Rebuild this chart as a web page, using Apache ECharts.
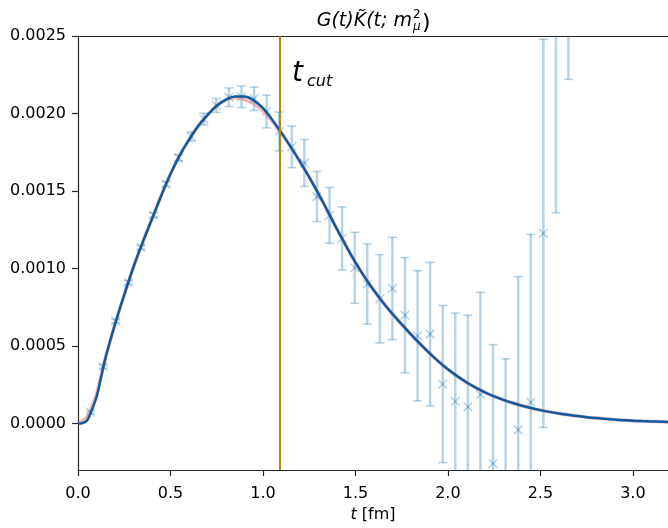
<!DOCTYPE html>
<html>
<head>
<meta charset="utf-8">
<script src="https://cdn.jsdelivr.net/npm/echarts@6/dist/echarts.min.js"></script>
<style>html,body{margin:0;padding:0;background:#fff}#c{width:668px;height:528px}</style>
</head>
<body>
<div id="c"></div>
<script>
// ---- data ----
const tCut = 1.088;
const xTicks = [0, 0.5, 1.0, 1.5, 2.0, 2.5, 3.0];
const yTicks = [0, 0.0005, 0.0010, 0.0015, 0.0020, 0.0025];

const curveT = [0, 0.025, 0.05, 0.075, 0.1, 0.125, 0.15, 0.2, 0.25, 0.3, 0.35, 0.4, 0.45, 0.5, 0.55, 0.6, 0.65, 0.7, 0.75, 0.8, 0.85, 0.9, 0.95, 1.0, 1.05, 1.1, 1.15, 1.2, 1.25, 1.3, 1.35, 1.4, 1.45, 1.5, 1.55, 1.6, 1.65, 1.7, 1.75, 1.8, 1.85, 1.9, 1.95, 2.0, 2.05, 2.1, 2.15, 2.2, 2.25, 2.3, 2.35, 2.4, 2.45, 2.5, 2.55, 2.6, 2.65, 2.7, 2.75, 2.8, 2.85, 2.9, 2.95, 3.0, 3.05, 3.1, 3.15, 3.2];
const curveBlue = [0, 0.000004, 0.000022, 0.00009, 0.00017, 0.0003, 0.00043, 0.00064, 0.00083, 0.00101, 0.00117, 0.00132, 0.00147, 0.00161, 0.00173, 0.00183, 0.00192, 0.00199, 0.00205, 0.00209, 0.00211, 0.00211, 0.002085, 0.002035, 0.00196, 0.001875, 0.001785, 0.00169, 0.00159, 0.001483, 0.00137, 0.001255, 0.001145, 0.00104, 0.000945, 0.000858, 0.00078, 0.000708, 0.000641, 0.000576, 0.000514, 0.000455, 0.0004, 0.00035, 0.000306, 0.000267, 0.000232, 0.000202, 0.000176, 0.000153, 0.000133, 0.000115, 0.0001, 0.000087, 0.0000755, 0.0000655, 0.0000565, 0.0000485, 0.0000415, 0.0000355, 0.0000305, 0.000026, 0.000022, 0.0000185, 0.000016, 0.000014, 0.000012, 0.00001];
const curveRed = [0, 0.000018, 0.000045, 0.00011, 0.00019, 0.00031, 0.00043, 0.00064, 0.00083, 0.00101, 0.00117, 0.00132, 0.00147, 0.00161, 0.00173, 0.00183, 0.00192, 0.00199, 0.00205, 0.00209, 0.0021, 0.00209, 0.002065, 0.002015, 0.00195, 0.001875, 0.001785, 0.00169, 0.00159, 0.001483, 0.00137, 0.001255, 0.001145, 0.00104, 0.000945, 0.000858, 0.00078, 0.000708, 0.000641, 0.000576, 0.000514, 0.000455, 0.0004, 0.00035, 0.000306, 0.000267, 0.000232, 0.000202, 0.000176, 0.000153, 0.000133, 0.000115, 0.0001, 0.000087, 0.0000755, 0.0000655, 0.0000565, 0.0000485, 0.0000415, 0.0000355, 0.0000305, 0.000026, 0.000022, 0.0000185, 0.000016, 0.000014, 0.000012, 0.00001];

const ptT = [0.068, 0.136, 0.204, 0.272, 0.340, 0.408, 0.476, 0.544, 0.612, 0.680, 0.748, 0.816, 0.884, 0.952, 1.020, 1.088, 1.156, 1.224, 1.292, 1.360, 1.428, 1.496, 1.564, 1.632, 1.700, 1.768, 1.836, 1.904, 1.972, 2.040, 2.108, 2.176, 2.244, 2.312, 2.380, 2.448, 2.516, 2.584, 2.652];
const ptY = [0.000072, 0.000367, 0.000661, 0.00091, 0.001136, 0.001345, 0.001545, 0.001714, 0.001852, 0.001964, 0.002052, 0.002105, 0.002108, 0.002095, 0.002013, 0.001884, 0.001785, 0.001681, 0.001464, 0.001343, 0.001195, 0.001005, 0.0009, 0.000805, 0.000872, 0.000699, 0.000566, 0.000577, 0.000255, 0.000143, 0.000108, 0.000188, -0.000258, -0.00036, -0.00004, 0.000137, 0.001227, 0.0031, 0.0036];
const ptErr = [0.000008, 0.00001, 0.00001, 0.000012, 0.000012, 0.000014, 0.000016, 0.00002, 0.00003, 0.000038, 0.000045, 0.00006, 0.00007, 0.000076, 0.000106, 0.000125, 0.000134, 0.000151, 0.000162, 0.00018, 0.000203, 0.000229, 0.000259, 0.000285, 0.00033, 0.000372, 0.00042, 0.000463, 0.000507, 0.00057, 0.000591, 0.000659, 0.000767, 0.000778, 0.000988, 0.001084, 0.001252, 0.00174, 0.00138];

// ---- chart ----
const FONT = 'DejaVu Sans';
const AX = '#262626';
const ERR = 'rgba(31,119,180,0.32)';
const chart = echarts.init(document.getElementById('c'), null, {renderer: 'canvas'});

const curveData = curveT.map((t, i) => [t, curveBlue[i]]);
const redData = curveT.map((t, i) => [t, curveRed[i]]);
const ptData = ptT.map((t, i) => [t, ptY[i], ptErr[i]]);

chart.setOption({
  animation: false,
  backgroundColor: '#fff',
  grid: {left: 78, top: 36, right: 0, bottom: 51, containLabel: false},
  xAxis: [{
    type: 'value', min: 0, max: 3.19,
    axisLine: {show: true, onZero: false, lineStyle: {color: AX, width: 1.2}},
    axisTick: {show: true, length: 6, customValues: xTicks, lineStyle: {color: AX, width: 1.2}},
    axisLabel: {customValues: xTicks, formatter: v => v.toFixed(1), color: '#000', fontFamily: FONT, fontSize: 16, margin: 16},
    splitLine: {show: false},
    name: '{i|t} [fm]', nameLocation: 'middle', nameGap: 33,
    nameTextStyle: {color: '#000', fontFamily: FONT, fontSize: 16, rich: {i: {fontStyle: 'italic', fontFamily: FONT, fontSize: 16, color: '#000'}}}
  }, {
    type: 'value', position: 'top', min: 0, max: 3.19,
    axisLine: {show: true, onZero: false, lineStyle: {color: AX, width: 1.2}},
    axisTick: {show: false}, axisLabel: {show: false}, splitLine: {show: false}
  }],
  yAxis: {
    type: 'value', min: -0.0003, max: 0.0025,
    axisLine: {show: true, onZero: false, lineStyle: {color: AX, width: 1.2}},
    axisTick: {show: true, length: 6, customValues: yTicks, lineStyle: {color: AX, width: 1.2}},
    axisLabel: {customValues: yTicks, formatter: v => v.toFixed(4), color: '#000', fontFamily: FONT, fontSize: 16, margin: 12},
    splitLine: {show: false}
  },
  series: [{
    type: 'custom',
    clip: true,
    z: 2,
    encode: {x: 0, y: 1},
    data: ptData,
    renderItem: function (params, api) {
      const t = api.value(0), y = api.value(1), e = api.value(2);
      const lo = api.coord([t, y - e]), hi = api.coord([t, y + e]), p = api.coord([t, y]);
      const cap = 4.5, m = 4.3;
      const bar = {stroke: ERR, lineWidth: 2.5};
      const thin = {stroke: ERR, lineWidth: 1.6};
      return {type: 'group', children: [
        {type: 'line', shape: {x1: lo[0], y1: lo[1], x2: hi[0], y2: hi[1]}, style: bar},
        {type: 'line', shape: {x1: lo[0] - cap, y1: lo[1], x2: lo[0] + cap, y2: lo[1]}, style: thin},
        {type: 'line', shape: {x1: hi[0] - cap, y1: hi[1], x2: hi[0] + cap, y2: hi[1]}, style: thin},
        {type: 'line', shape: {x1: p[0] - m, y1: p[1] - m, x2: p[0] + m, y2: p[1] + m}, style: thin},
        {type: 'line', shape: {x1: p[0] - m, y1: p[1] + m, x2: p[0] + m, y2: p[1] - m}, style: thin}
      ]};
    }
  }, {
    type: 'line', data: redData, showSymbol: false, smooth: 0.4, z: 3,
    lineStyle: {color: 'rgba(240,128,128,0.55)', width: 3.5}
  }, {
    type: 'line', data: curveData, showSymbol: false, smooth: 0.4, z: 4,
    lineStyle: {color: '#0f5a9e', width: 2.5},
    markLine: {
      silent: true, symbol: ['none', 'none'], animation: false,
      label: {show: false},
      lineStyle: {color: '#b8860b', width: 2, type: 'solid'},
      data: [{xAxis: tCut}]
    }
  }],
  graphic: [
    {type: 'text', x: 412, y: 31, style: {text: 'G(t)K\u0303(t; m', font: 'italic 19px "DejaVu Sans"', fill: '#000', textAlign: 'right', textVerticalAlign: 'bottom'}},
    {type: 'text', x: 413, y: 21, style: {text: '2', font: '12px "DejaVu Sans"', fill: '#000', textAlign: 'left', textVerticalAlign: 'bottom'}},
    {type: 'text', x: 413, y: 33, style: {text: '\u03bc', font: 'italic 12px "DejaVu Sans"', fill: '#000', textAlign: 'left', textVerticalAlign: 'bottom'}},
    {type: 'text', x: 422, y: 34, style: {text: ')', font: '22px "DejaVu Sans"', fill: '#000', textAlign: 'left', textVerticalAlign: 'bottom'}},
    {type: 'text', x: 292, y: 88, style: {text: 't', font: 'italic 28px "DejaVu Sans"', fill: '#000', textAlign: 'left', textVerticalAlign: 'bottom'}},
    {type: 'text', x: 307, y: 90, style: {text: 'cut', font: 'italic 16px "DejaVu Sans"', fill: '#000', textAlign: 'left', textVerticalAlign: 'bottom'}}
  ]
});
</script>
</body>
</html>
